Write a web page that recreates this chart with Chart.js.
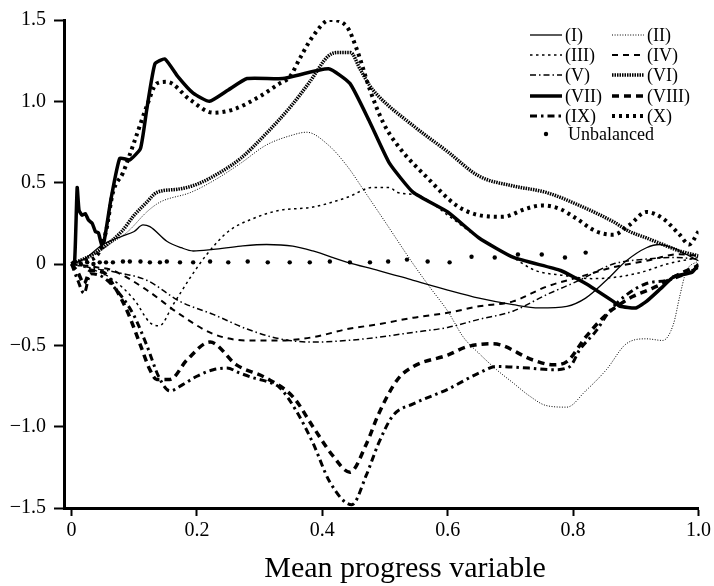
<!DOCTYPE html>
<html>
<head>
<meta charset="utf-8">
<script src="https://cdn.jsdelivr.net/npm/chart.js@4.4.1/dist/chart.umd.min.js"></script>
<style>
  body { margin: 0; background: #fff; }
</style>
</head>
<body>
<canvas id="flux" width="714" height="586"></canvas>
<script>
// tick labels
var xTicks = [0, 0.2, 0.4, 0.6, 0.8, 1.0];
var xTickLabels = ["0", "0.2", "0.4", "0.6", "0.8", "1.0"];
var yTicks = [-1.5, -1.0, -0.5, 0, 0.5, 1.0, 1.5];
var yTickLabels = ["\u22121.5", "\u22121.0", "\u22120.5", "0", "0.5", "1.0", "1.5"];
var xTitle = "Mean progress variable";

var seriesNames = ["(I)", "(II)", "(III)", "(IV)", "(V)", "(VI)", "(VII)", "(VIII)", "(IX)", "(X)"];

// [mean progress variable, value]
var termI = [[0,0],[0.02,0.03],[0.05,0.12],[0.08,0.17],[0.1,0.2],[0.114,0.24],[0.125,0.23],[0.152,0.14],[0.175,0.1],[0.194,0.08],[0.226,0.09],[0.27,0.11],[0.311,0.12],[0.353,0.11],[0.385,0.08],[0.44,0.01],[0.49,-0.04],[0.545,-0.1],[0.6,-0.16],[0.65,-0.21],[0.704,-0.25],[0.746,-0.27],[0.79,-0.26],[0.82,-0.21],[0.853,-0.1],[0.885,0.02],[0.917,0.1],[0.938,0.12],[0.958,0.1],[0.98,0.06],[1.0,0.02]];
var termII = [[0,0],[0.03,0.05],[0.06,0.12],[0.09,0.2],[0.12,0.32],[0.141,0.38],[0.19,0.44],[0.23,0.52],[0.27,0.62],[0.31,0.73],[0.35,0.79],[0.375,0.81],[0.41,0.73],[0.44,0.6],[0.465,0.46],[0.5,0.26],[0.545,0],[0.571,-0.14],[0.6,-0.29],[0.625,-0.45],[0.65,-0.55],[0.678,-0.65],[0.704,-0.73],[0.73,-0.81],[0.757,-0.87],[0.79,-0.88],[0.82,-0.78],[0.853,-0.65],[0.885,-0.49],[0.917,-0.46],[0.943,-0.47],[0.96,-0.37],[0.97,-0.2],[0.98,-0.05],[1.0,0.02]];
var termIII = [[0,0],[0.03,-0.03],[0.06,-0.08],[0.1,-0.22],[0.125,-0.36],[0.14,-0.38],[0.162,-0.25],[0.19,-0.08],[0.216,0.06],[0.25,0.2],[0.29,0.28],[0.332,0.33],[0.385,0.35],[0.44,0.41],[0.48,0.47],[0.507,0.47],[0.52,0.44],[0.555,0.42],[0.6,0.3],[0.65,0.16],[0.704,0.04],[0.74,-0.04],[0.784,-0.07],[0.83,-0.09],[0.87,-0.08],[0.91,-0.05],[0.95,0.0],[1.0,0.04]];
var termIV = [[0,0],[0.04,-0.02],[0.066,-0.04],[0.12,-0.16],[0.173,-0.31],[0.226,-0.43],[0.28,-0.47],[0.332,-0.47],[0.385,-0.45],[0.44,-0.4],[0.49,-0.37],[0.545,-0.33],[0.6,-0.3],[0.65,-0.26],[0.704,-0.23],[0.757,-0.14],[0.81,-0.08],[0.864,-0.02],[0.917,0.02],[0.97,0.06],[1.0,0.05]];
var termV = [[0,0],[0.04,-0.03],[0.07,-0.05],[0.12,-0.1],[0.173,-0.23],[0.226,-0.31],[0.28,-0.4],[0.332,-0.46],[0.385,-0.48],[0.44,-0.47],[0.49,-0.45],[0.545,-0.42],[0.6,-0.39],[0.65,-0.34],[0.704,-0.29],[0.757,-0.19],[0.81,-0.1],[0.864,0],[0.917,0.03],[0.96,0.04],[1.0,0.03]];
var termVI = [[0,0],[0.03,0.05],[0.05,0.1],[0.08,0.2],[0.1,0.3],[0.12,0.38],[0.136,0.44],[0.17,0.46],[0.2,0.49],[0.24,0.57],[0.27,0.65],[0.31,0.8],[0.35,0.97],[0.38,1.12],[0.41,1.28],[0.425,1.3],[0.445,1.3],[0.46,1.2],[0.475,1.1],[0.49,1.03],[0.545,0.85],[0.6,0.69],[0.65,0.54],[0.704,0.48],[0.757,0.44],[0.81,0.36],[0.864,0.26],[0.89,0.2],[0.917,0.16],[0.943,0.12],[0.97,0.08],[1.0,0.05]];
var termVII = [[0,0],[0.005,0.02],[0.009,0.47],[0.012,0.33],[0.017,0.3],[0.022,0.31],[0.027,0.27],[0.033,0.25],[0.038,0.2],[0.043,0.19],[0.048,0.12],[0.052,0.14],[0.063,0.4],[0.077,0.65],[0.093,0.64],[0.11,0.71],[0.12,0.95],[0.133,1.23],[0.149,1.26],[0.17,1.15],[0.194,1.05],[0.22,1.0],[0.25,1.07],[0.28,1.14],[0.337,1.14],[0.41,1.2],[0.444,1.11],[0.476,0.87],[0.507,0.62],[0.545,0.44],[0.6,0.32],[0.65,0.16],[0.705,0.04],[0.78,-0.04],[0.82,-0.12],[0.864,-0.23],[0.875,-0.26],[0.9,-0.27],[0.917,-0.23],[0.94,-0.15],[0.96,-0.08],[0.99,-0.05],[1.0,0]];
var termVIII = [[0,0],[0.01,-0.05],[0.02,-0.12],[0.03,-0.04],[0.05,-0.05],[0.07,-0.15],[0.09,-0.3],[0.11,-0.5],[0.125,-0.65],[0.136,-0.71],[0.157,-0.71],[0.184,-0.59],[0.221,-0.48],[0.263,-0.62],[0.31,-0.7],[0.354,-0.82],[0.385,-1.0],[0.417,-1.18],[0.444,-1.28],[0.471,-1.1],[0.49,-0.92],[0.52,-0.71],[0.545,-0.63],[0.6,-0.56],[0.63,-0.51],[0.672,-0.49],[0.736,-0.59],[0.768,-0.62],[0.79,-0.6],[0.82,-0.45],[0.853,-0.31],[0.874,-0.25],[0.895,-0.2],[0.92,-0.16],[0.943,-0.12],[0.96,-0.08],[1.0,-0.01]];
var termIX = [[0,0],[0.01,-0.1],[0.02,-0.18],[0.03,-0.06],[0.05,-0.08],[0.08,-0.2],[0.1,-0.32],[0.12,-0.5],[0.14,-0.7],[0.157,-0.78],[0.178,-0.74],[0.2,-0.69],[0.226,-0.65],[0.248,-0.64],[0.268,-0.67],[0.29,-0.7],[0.31,-0.72],[0.332,-0.76],[0.358,-0.9],[0.385,-1.1],[0.412,-1.34],[0.447,-1.48],[0.47,-1.3],[0.49,-1.1],[0.513,-0.93],[0.545,-0.86],[0.6,-0.77],[0.65,-0.67],[0.678,-0.63],[0.73,-0.64],[0.768,-0.65],[0.795,-0.63],[0.81,-0.53],[0.837,-0.41],[0.858,-0.29],[0.885,-0.19],[0.917,-0.12],[0.95,-0.1],[0.98,-0.06],[1.0,-0.02]];
var termX = [[0,0],[0.02,0.02],[0.04,0.05],[0.055,0.2],[0.066,0.44],[0.082,0.56],[0.1,0.75],[0.12,0.97],[0.136,1.11],[0.152,1.12],[0.189,1.01],[0.226,0.93],[0.258,0.95],[0.3,1.03],[0.332,1.11],[0.348,1.15],[0.365,1.27],[0.385,1.4],[0.412,1.5],[0.439,1.46],[0.455,1.32],[0.476,1.07],[0.497,0.87],[0.52,0.73],[0.57,0.52],[0.614,0.36],[0.65,0.3],[0.688,0.29],[0.725,0.34],[0.75,0.36],[0.778,0.34],[0.805,0.28],[0.837,0.2],[0.864,0.18],[0.89,0.24],[0.917,0.32],[0.943,0.28],[0.97,0.18],[0.985,0.12],[1.0,0.2]];
var unbalanced = [[0.005,0.01],[0.015,0.0],[0.025,0.01],[0.035,0.0],[0.045,0.01],[0.055,0.01],[0.066,0.01],[0.082,0.015],[0.093,0.015],[0.11,0.015],[0.125,0.01],[0.141,0.01],[0.152,0.015],[0.173,0.01],[0.194,0.01],[0.221,0.015],[0.25,0.01],[0.281,0.015],[0.313,0.01],[0.348,0.01],[0.38,0.01],[0.412,0.015],[0.444,0.01],[0.476,0.01],[0.505,0.015],[0.535,0.027],[0.568,0.015],[0.603,0.01],[0.638,0.045],[0.675,0.04],[0.712,0.058],[0.75,0.058],[0.787,0.04],[0.82,0.07]];

function toPts(arr) {
  return arr.map(function(p){ return {x: p[0], y: p[1]}; });
}

var styles = [
  {w: 1.3, dash: []},
  {w: 1.0, dash: [1, 1.6]},
  {w: 1.5, dash: [2.5, 3.5]},
  {w: 2.0, dash: [6, 5]},
  {w: 1.5, dash: [6, 3, 1.5, 3]},
  {w: 3.5, dash: [1.5, 1]},
  {w: 3.5, dash: []},
  {w: 3.5, dash: [7, 5]},
  {w: 3.0, dash: [7, 4, 2.5, 4]},
  {w: 4.0, dash: [3, 4]}
];
var allTerms = [termI, termII, termIII, termIV, termV, termVI, termVII, termVIII, termIX, termX];

var datasets = [];
for (var i = 0; i < allTerms.length; i++) {
  datasets.push({
    label: seriesNames[i],
    data: toPts(allTerms[i]),
    showLine: true,
    borderColor: "#000",
    backgroundColor: "#000",
    borderWidth: styles[i].w,
    borderDash: styles[i].dash,
    pointRadius: 0,
    cubicInterpolationMode: i == 6 ? "default" : "monotone",
    tension: i == 6 ? 0.15 : 0
  });
}
datasets.push({
  label: "Unbalanced",
  data: toPts(unbalanced),
  showLine: false,
  pointRadius: 2.2,
  pointBackgroundColor: "#000",
  pointBorderWidth: 0
});

var serif = "'Liberation Serif', 'Times New Roman', serif";

// two column legend + axis title like the original figure
var legendPlugin = {
  id: "twoColLegend",
  afterDraw: function(chart) {
    var ctx = chart.ctx;
    var rows = [35, 55, 75, 96, 116];
    ctx.save();
    ctx.font = "18px " + serif;
    ctx.fillStyle = "#000";
    ctx.textBaseline = "middle";
    for (var i = 0; i < 10; i++) {
      var col = i % 2, row = Math.floor(i / 2);
      var x0 = col == 0 ? 530 : 612;
      var y = rows[row];
      ctx.strokeStyle = "#000";
      ctx.lineWidth = styles[i].w;
      ctx.setLineDash(styles[i].dash);
      ctx.beginPath();
      ctx.moveTo(x0, y);
      ctx.lineTo(x0 + 32, y);
      ctx.stroke();
      ctx.setLineDash([]);
      ctx.fillText(seriesNames[i], x0 + 35, y + 1);
    }
    ctx.beginPath();
    ctx.arc(546, 134, 2.2, 0, Math.PI * 2);
    ctx.fill();
    ctx.fillText("Unbalanced", 568, 135);

    ctx.font = "30px " + serif;
    ctx.textAlign = "center";
    ctx.textBaseline = "alphabetic";
    ctx.fillText(xTitle, 405, 577);
    ctx.restore();
  }
};

new Chart(document.getElementById("flux"), {
  type: "scatter",
  data: { datasets: datasets },
  plugins: [legendPlugin],
  options: {
    responsive: false,
    animation: false,
    layout: { padding: { top: 13, right: 15, left: 0, bottom: 0 } },
    plugins: { legend: { display: false }, tooltip: { enabled: false } },
    scales: {
      x: {
        type: "linear",
        min: -0.012,
        max: 1.0,
        afterBuildTicks: function(scale) {
          scale.ticks = xTicks.map(function(v){ return {value: v}; });
        },
        afterFit: function(scale) { scale.height = 78; },
        ticks: {
          color: "#000",
          padding: 3,
          maxRotation: 0,
          font: { family: serif, size: 20 },
          callback: function(v, i) { return xTickLabels[i]; }
        },
        grid: { drawOnChartArea: false, tickLength: 8, tickWidth: 2, tickColor: "#000" },
        border: { color: "#000", width: 3 }
      },
      y: {
        type: "linear",
        min: -1.5,
        max: 1.5,
        afterBuildTicks: function(scale) {
          scale.ticks = yTicks.map(function(v){ return {value: v}; });
        },
        afterFit: function(scale) { scale.width = 64; },
        ticks: {
          color: "#000",
          padding: 8,
          font: { family: serif, size: 20 },
          callback: function(v, i) { return yTickLabels[i]; }
        },
        grid: { drawOnChartArea: false, tickLength: 10, tickWidth: 2, tickColor: "#000" },
        border: { color: "#000", width: 3 }
      }
    }
  }
});
</script>
</body>
</html>
